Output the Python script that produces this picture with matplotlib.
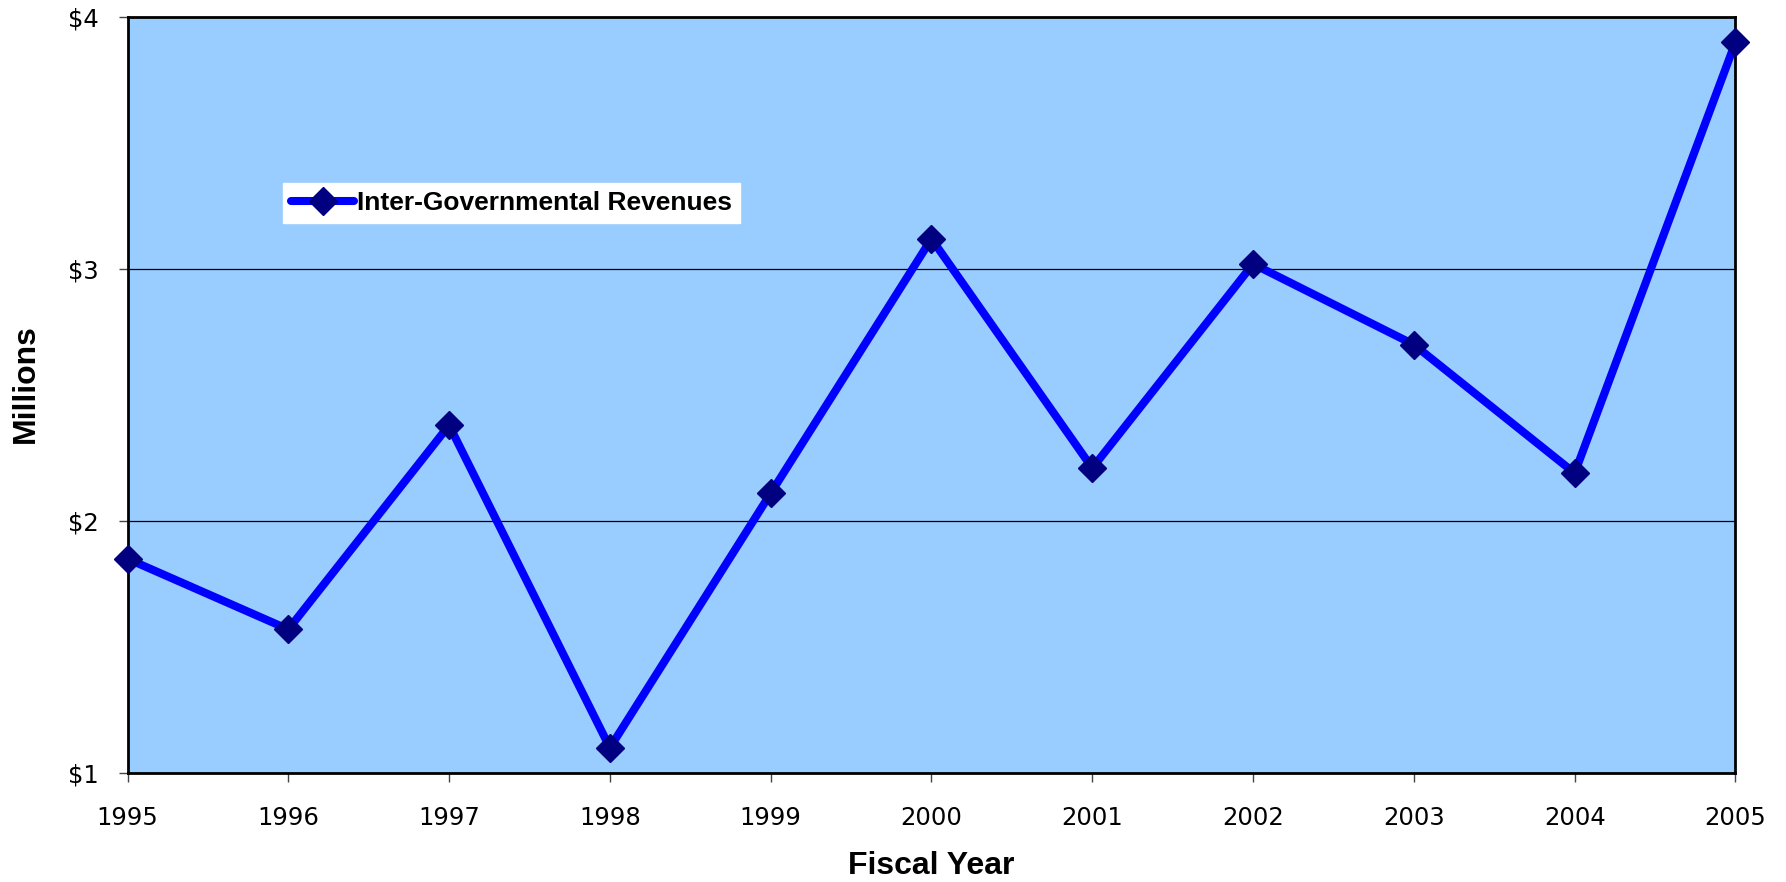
# line chart of inter-governmental revenues by fiscal year
import matplotlib
matplotlib.use('Agg')
import matplotlib.pyplot as plt

# data (millions of dollars)
years = [1995, 1996, 1997, 1998, 1999, 2000, 2001, 2002, 2003, 2004, 2005]
revenues = [1.85, 1.57, 2.38, 1.10, 2.11, 3.12, 2.21, 3.02, 2.70, 2.19, 3.90]
y_ticks = [1, 2, 3, 4]
y_tick_labels = ['$1', '$2', '$3', '$4']

fig = plt.figure(figsize=(17.86, 8.82), dpi=100)
ax = fig.add_axes([0.0714, 0.1236, 0.9003, 0.8571])
ax.set_facecolor('#99CCFF')

ax.plot(years, revenues, color='#0000FF', linewidth=5.8, solid_capstyle='round',
        marker='D', markersize=14, markerfacecolor='#000080',
        markeredgecolor='#000080', clip_on=False, zorder=3,
        label='Inter-Governmental Revenues')

ax.set_xlim(1995, 2005)
ax.set_ylim(1, 4)
ax.set_xticks(years)
ax.set_xticklabels([str(y) for y in years], fontsize=17.5, family='DejaVu Sans')
ax.set_yticks(y_ticks)
ax.set_yticklabels(y_tick_labels, fontsize=17.5, family='DejaVu Sans')
ax.tick_params(axis='x', direction='out', length=6.5, width=1, pad=17, color='#444444')
ax.tick_params(axis='y', direction='out', length=6.5, width=1, pad=14, color='#444444')

ax.grid(axis='y', color='black', linewidth=0.9)
ax.set_axisbelow(True)
for spine in ax.spines.values():
    spine.set_linewidth(2)
    spine.set_color('black')

ax.set_xlabel('Fiscal Year', fontsize=23, fontweight='bold', family='Liberation Sans')
ax.xaxis.set_label_coords(0.5, -0.103)
ax.set_ylabel('Millions', fontsize=23, fontweight='bold', family='Liberation Sans')
ax.yaxis.set_label_coords(-0.054, 0.515)

leg = ax.legend(loc='upper left', bbox_to_anchor=(0.0967, 0.780), borderaxespad=0,
                numpoints=1, handlelength=2.4, handletextpad=0.1, borderpad=0.3,
                fancybox=False, framealpha=1, edgecolor='white',
                prop={'family': 'Liberation Sans', 'weight': 'bold', 'size': 19})

fig.savefig('out.png', dpi=100)
